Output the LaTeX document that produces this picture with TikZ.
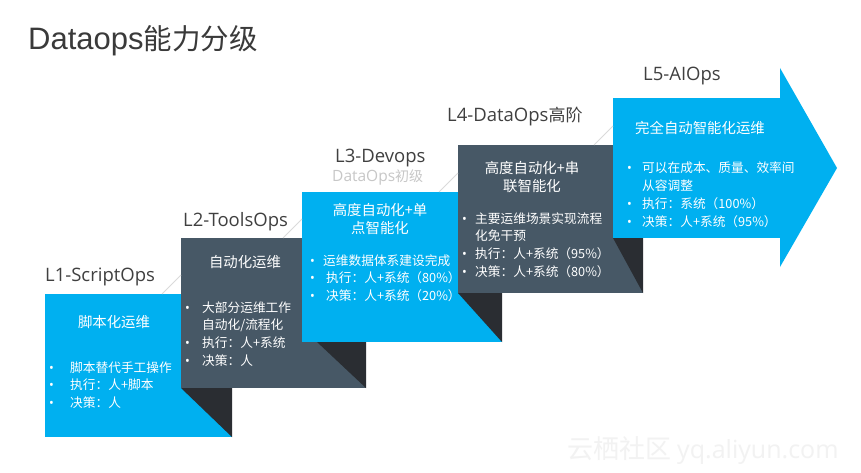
\documentclass[tikz,border=0pt]{standalone}
\usepackage{fontspec}
\setmainfont{Noto Sans CJK SC}
\newfontfamily\lat{Open Sans}
\newfontfamily\arl{Liberation Sans}
\definecolor{cy}{HTML}{00B0F0}
\definecolor{sl}{HTML}{475866}
\definecolor{dk}{HTML}{2A2D32}
\definecolor{tx}{HTML}{404040}
\definecolor{fl}{HTML}{DADADA}
\begin{document}
\begin{tikzpicture}[x=1pt,y=-1pt,
  boxbase/.style={inner sep=0pt,outer sep=0pt,anchor=north west},
  cbox/.style={boxbase,fill=cy},
  sbox/.style={boxbase,fill=sl},
  lvl/.style={anchor=base west,inner sep=0pt,text=tx,font=\lat\fontsize{18.5}{20}\selectfont},
  head/.style={anchor=center,inner sep=0pt,text=white,align=center,font=\fontsize{14.4}{17.5}\selectfont},
  lst/.style={anchor=base west,inner sep=0pt,text=white,font=\fontsize{12.7}{17.8}\selectfont},
  foldline/.style={draw=fl,line width=0.8pt},
  shade/.style={fill=dk}]
\useasboundingbox (0,0) rectangle (861,473);
\fill[white] (0,0) rectangle (861,473);

% title
\node[anchor=base west,inner sep=0pt,text=tx!90!black] (title) at (28,50)
  {{\arl\fontsize{31}{34}\selectfont Dataops}{\fontsize{28.5}{34}\selectfont 能力分级}};

% boxes
\node[cbox,minimum width=187pt,minimum height=143pt] (b1) at (45,294) {};
\node[sbox,minimum width=185pt,minimum height=150pt] (b2) at (181,238) {};
\fill[shade] (b2.south west) -- (b1.east |- b2.south) -- (b1.south east) -- cycle;
\node[cbox,minimum width=200pt,minimum height=150pt] (b3) at (302,192) {};
\fill[shade] ([xshift=15pt]b3.south west) -- (b2.east |- b3.south) -- (b2.south east) -- cycle;
\node[sbox,minimum width=185pt,minimum height=148pt] (b4) at (458,145) {};
\fill[shade] (b4.south west) -- (b3.east |- b4.south) -- (b3.south east) -- cycle;
\node[cbox,minimum width=168pt,minimum height=140pt] (b5) at (613,98) {};
\coordinate (tip) at (837,168);
\fill[cy] (780,68) -- (tip) -- (780,267) -- cycle;
\fill[shade] (b5.south west) -- (b4.east |- b5.south) -- (b4.south east) -- cycle;

% fold lines
\draw[foldline] ([xshift=-19pt]b2.west |- b1.north) -- ++(19,-19);
\draw[foldline] ([xshift=-19pt]b3.west |- b2.north) -- ++(19,-19);
\draw[foldline] ([xshift=-19pt]b4.west |- b3.north) -- ++(19,-19);
\draw[foldline] ([xshift=-19pt]b5.west |- b4.north) -- ++(19,-19);

% level labels
\node[lvl] (l1) at (45,281) {L1-ScriptOps};
\node[lvl] (l2) at (183,226) {L2-ToolsOps};
\node[lvl] (l3) at (335,163) {L3-Devops};
\node[anchor=base west,inner sep=0pt,text=black!22] (l3s) at (332,182)
  {{\lat\fontsize{15.5}{18}\selectfont DataOps}{\fontsize{14}{18}\selectfont 初级}};
\node[anchor=base west,inner sep=0pt,text=tx] (l4) at (447,122)
  {{\lat\fontsize{18.5}{20}\selectfont L4-DataOps}{\fontsize{17}{20}\selectfont 高阶}};
\node[lvl] (l5) at (643,81) {L5-AIOps};

% headings
\node[head] (h1) at (114,322) {脚本化运维};
\node[head] (h2) at (245,262) {自动化运维};
\node[head] (h3) at (380,219) {高度自动化+单\\点智能化};
\node[head] (h4) at (532,177) {高度自动化+串\\联智能化};
\node[head] (h5) at (700,128) {完全自动智能化运维};

% bullet lists
\node[lst] (t1) at (49,372) {\begin{tabular}[t]{@{}p{21pt}@{}l@{}}
{\lat•} & 脚本替代手工操作\\
{\lat•} & 执行：人+脚本\\
{\lat•} & 决策：人
\end{tabular}};
\node[lst] (t2) at (185,312) {\begin{tabular}[t]{@{}p{17pt}@{}l@{}}
{\lat•} & 大部分运维工作\\
 & 自动化/流程化\\
{\lat•} & 执行：人+系统\\
{\lat•} & 决策：人
\end{tabular}};
\node[lst] (t3) at (310,265) {\begin{tabular}[t]{@{}p{13pt}@{}l@{}}
{\lat•} & 运维数据体系建设完成\\
{\lat•} & \hspace{3pt}执行：人+系统（80\%）\\
{\lat•} & \hspace{3pt}决策：人+系统（20\%）
\end{tabular}};
\node[lst] (t4) at (462,223) {\begin{tabular}[t]{@{}p{13pt}@{}l@{}}
{\lat•} & 主要运维场景实现流程\\
 & 化免干预\\
{\lat•} & 执行：人+系统（95\%）\\
{\lat•} & 决策：人+系统（80\%）
\end{tabular}};
\node[lst] (t5) at (627,173) {\begin{tabular}[t]{@{}p{15pt}@{}l@{}}
{\lat•} & 可以在成本、质量、效率间\\
 & 从容调整\\
{\lat•} & 执行：系统（100\%）\\
{\lat•} & 决策：人+系统（95\%）
\end{tabular}};

% watermark
\node[anchor=base west,inner sep=0pt,text=black!5] (wm) at (567,458)
  {{\fontsize{26}{30}\selectfont 云栖社区}\hspace{6pt}{\lat\fontsize{25}{30}\selectfont yq.aliyun.com}};
\end{tikzpicture}
\end{document}
